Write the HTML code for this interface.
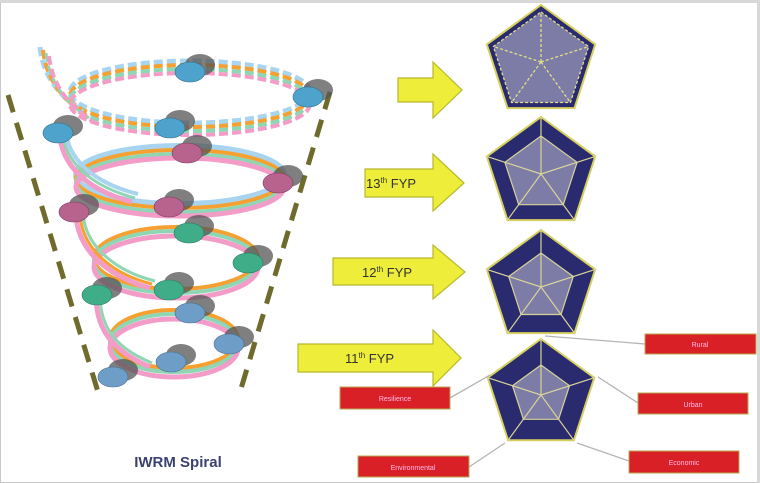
<!DOCTYPE html>
<html><head><meta charset="utf-8"><style>
html,body{margin:0;padding:0;background:#fff}
svg{display:block}
</style></head><body>
<svg width="760" height="483" viewBox="0 0 760 483" xmlns="http://www.w3.org/2000/svg" font-family="Liberation Sans, sans-serif">
<rect x="0.5" y="0.5" width="759" height="482" fill="#fff" stroke="#c8c8c8" stroke-width="1"/>
<rect x="0" y="0" width="760" height="3" fill="#d8d8d8"/>
<rect x="757" y="0" width="3" height="483" fill="#d8d8d8"/>

<g stroke="#6e6b2c" stroke-width="5" stroke-dasharray="18 11" fill="none">
<line x1="8" y1="95" x2="98" y2="392"/>
<line x1="330" y1="92" x2="240" y2="392"/>
</g>

<!-- top dashed ring -->
<g fill="none" stroke-dasharray="9 4">
<ellipse cx="190" cy="98" rx="120" ry="31" stroke="#a8d4f0" stroke-width="5" transform="translate(0,-6)"/>
<ellipse cx="190" cy="98" rx="120" ry="31" stroke="#f5a030" stroke-width="4" transform="translate(0,-2)"/>
<ellipse cx="190" cy="98" rx="120" ry="31" stroke="#8fd6b5" stroke-width="4" transform="translate(0,2)"/>
<ellipse cx="190" cy="98" rx="120" ry="31" stroke="#f39cc8" stroke-width="4" transform="translate(0,6)"/>
<path d="M40 47 C43 75 58 95 83 112" stroke="#a8d4f0" stroke-width="5"/>
<path d="M43 50 C46 78 61 98 86 115" stroke="#f5a030" stroke-width="4"/>
<path d="M46 53 C49 81 64 101 89 118" stroke="#8fd6b5" stroke-width="3"/>
<path d="M49 56 C52 84 67 104 92 121" stroke="#f39cc8" stroke-width="4"/>
</g>
<g fill="none">
<!-- ring 2 -->
<ellipse cx="180" cy="181" rx="104" ry="29" stroke="#a8d4f0" stroke-width="6" transform="translate(0,-6)"/>
<ellipse cx="180" cy="181" rx="104" ry="29" stroke="#f5a030" stroke-width="4" transform="translate(0,-2)"/>
<ellipse cx="180" cy="181" rx="104" ry="29" stroke="#8fd6b5" stroke-width="4" transform="translate(0,2)"/>
<ellipse cx="180" cy="181" rx="104" ry="29" stroke="#f39cc8" stroke-width="5" transform="translate(0,6)"/>
<path d="M60 138 C65 172 95 192 132 202" stroke="#f39cc8" stroke-width="5"/>
<path d="M63 136 C68 168 98 188 135 198" stroke="#8fd6b5" stroke-width="3"/>
<path d="M66 134 C71 165 101 185 138 194" stroke="#a8d4f0" stroke-width="4"/>
<!-- ring 3 -->
<ellipse cx="176" cy="262" rx="82" ry="31" stroke="#f5a030" stroke-width="4" transform="translate(0,-4)"/>
<ellipse cx="176" cy="262" rx="82" ry="31" stroke="#8fd6b5" stroke-width="4"/>
<ellipse cx="176" cy="262" rx="82" ry="31" stroke="#f39cc8" stroke-width="5" transform="translate(0,5)"/>
<path d="M76 215 C78 252 110 277 150 288" stroke="#f39cc8" stroke-width="5"/>
<path d="M80 214 C82 249 112 274 152 284" stroke="#f5a030" stroke-width="3"/>
<path d="M83 213 C85 246 115 271 155 281" stroke="#8fd6b5" stroke-width="3"/>
<!-- ring 4 -->
<ellipse cx="174" cy="343" rx="64" ry="29" stroke="#f5a030" stroke-width="4" transform="translate(0,-4)"/>
<ellipse cx="174" cy="343" rx="64" ry="29" stroke="#8fd6b5" stroke-width="4"/>
<ellipse cx="174" cy="343" rx="64" ry="29" stroke="#f39cc8" stroke-width="5" transform="translate(0,5)"/>
<path d="M96 298 C97 332 115 352 150 367" stroke="#f39cc8" stroke-width="5"/>
<path d="M100 297 C101 330 118 349 152 363" stroke="#8fd6b5" stroke-width="3"/>
</g>

<!-- dots -->
<g>
<g fill="#555" opacity="0.75">
<ellipse cx="200" cy="65" rx="15" ry="11"/><ellipse cx="318" cy="90" rx="15" ry="11"/><ellipse cx="68" cy="126" rx="15" ry="11"/><ellipse cx="180" cy="121" rx="15" ry="11"/>
<ellipse cx="197" cy="146" rx="15" ry="11"/><ellipse cx="288" cy="176" rx="15" ry="11"/><ellipse cx="84" cy="205" rx="15" ry="11"/><ellipse cx="179" cy="200" rx="15" ry="11"/>
<ellipse cx="199" cy="226" rx="15" ry="11"/><ellipse cx="258" cy="256" rx="15" ry="11"/><ellipse cx="107" cy="288" rx="15" ry="11"/><ellipse cx="179" cy="283" rx="15" ry="11"/>
<ellipse cx="200" cy="306" rx="15" ry="11"/><ellipse cx="239" cy="337" rx="15" ry="11"/><ellipse cx="123" cy="370" rx="15" ry="11"/><ellipse cx="181" cy="355" rx="15" ry="11"/>
</g>
<g fill="#4ea3cc" stroke="#2d6f90" stroke-width="0.6">
<ellipse cx="190" cy="72" rx="15" ry="10"/><ellipse cx="308" cy="97" rx="15" ry="10"/><ellipse cx="58" cy="133" rx="15" ry="10"/><ellipse cx="170" cy="128" rx="15" ry="10"/>
</g>
<g fill="#b8628e" stroke="#7a3c5e" stroke-width="0.6">
<ellipse cx="187" cy="153" rx="15" ry="10"/><ellipse cx="278" cy="183" rx="15" ry="10"/><ellipse cx="74" cy="212" rx="15" ry="10"/><ellipse cx="169" cy="207" rx="15" ry="10"/>
</g>
<g fill="#3fae88" stroke="#2a7a5e" stroke-width="0.6">
<ellipse cx="189" cy="233" rx="15" ry="10"/><ellipse cx="248" cy="263" rx="15" ry="10"/><ellipse cx="97" cy="295" rx="15" ry="10"/><ellipse cx="169" cy="290" rx="15" ry="10"/>
</g>
<g fill="#6e9ec8" stroke="#456f94" stroke-width="0.6">
<ellipse cx="190" cy="313" rx="15" ry="10"/><ellipse cx="229" cy="344" rx="15" ry="10"/><ellipse cx="113" cy="377" rx="15" ry="10"/><ellipse cx="171" cy="362" rx="15" ry="10"/>
</g>
</g>

<text x="178" y="467" text-anchor="middle" font-size="15" font-weight="bold" fill="#3c4270">IWRM Spiral</text>

<g fill="#eded3a" stroke="#b8b82a" stroke-width="1.2">
<polygon points="398,78 433,78 433,62 462,90 433,118 433,102 398,102"/>
<polygon points="365,169 433,169 433,154 464,183 433,211 433,197 365,197"/>
<polygon points="333,258 433,258 433,245 465,272 433,299 433,285 333,285"/>
<polygon points="298,344 433,344 433,330 461,358 433,386 433,372 298,372"/>
</g>
<g font-size="13" fill="#333">
<text x="366" y="188">13<tspan font-size="8" dy="-5">th</tspan><tspan dy="5"> FYP</tspan></text>
<text x="362" y="277">12<tspan font-size="8" dy="-5">th</tspan><tspan dy="5"> FYP</tspan></text>
<text x="345" y="363">11<tspan font-size="8" dy="-5">th</tspan><tspan dy="5"> FYP</tspan></text>
</g>

<g stroke="#d6d060" stroke-width="2">
<polygon fill="#2a2a6e" points="541,5 595.2,44.4 574.5,108.1 507.5,108.1 486.8,44.4"/>
<polygon fill="#7c7ca6" stroke="#e3de8a" stroke-width="1.3" stroke-dasharray="3 2" points="541,12 588.6,46.5 570.4,102.5 511.6,102.5 493.4,46.5"/>
<path fill="none" stroke="#e3de8a" stroke-width="1.3" stroke-dasharray="3 2" d="M541 62L541 12M541 62L588.6 46.5M541 62L570.4 102.5M541 62L511.6 102.5M541 62L493.4 46.5"/>

<polygon fill="#2a2a6e" points="541,117 595.2,156.4 574.5,220.1 507.5,220.1 486.8,156.4"/>
<polygon fill="#7c7ca6" stroke="#d8d39a" stroke-width="1.2" points="541,136 577.1,162.3 563.3,204.7 518.7,204.7 504.9,162.3"/>
<path fill="none" stroke="#d8d39a" stroke-width="1.2" d="M541 174L541 117M541 174L595.2 156.4M541 174L574.5 220.1M541 174L507.5 220.1M541 174L486.8 156.4"/>

<polygon fill="#2a2a6e" points="541,230 595.2,269.4 574.5,333.1 507.5,333.1 486.8,269.4"/>
<polygon fill="#7c7ca6" stroke="#d8d39a" stroke-width="1.2" points="541,253 573.3,276.5 561,314.5 521,314.5 508.7,276.5"/>
<path fill="none" stroke="#d8d39a" stroke-width="1.2" d="M541 287L541 230M541 287L595.2 269.4M541 287L574.5 333.1M541 287L507.5 333.1M541 287L486.8 269.4"/>

<polygon fill="#2a2a6e" points="541,339 594.3,377.7 573.9,440.3 508.1,440.3 487.7,377.7"/>
<polygon fill="#7c7ca6" stroke="#d8d39a" stroke-width="1.2" points="541,365 569.5,385.7 558.6,419.3 523.4,419.3 512.5,385.7"/>
<path fill="none" stroke="#d8d39a" stroke-width="1.2" d="M541 395L541 339M541 395L594.3 377.7M541 395L573.9 440.3M541 395L508.1 440.3M541 395L487.7 377.7"/>
</g>

<g stroke="#b5b5b5" stroke-width="1.3" fill="none">
<line x1="645" y1="344" x2="545" y2="336"/>
<line x1="450" y1="398" x2="490" y2="375"/>
<line x1="638" y1="403" x2="598" y2="377"/>
<line x1="469" y1="467" x2="505" y2="443"/>
<line x1="629" y1="461" x2="577" y2="443"/>
</g>

<g fill="#d92027" stroke="#b8a850" stroke-width="1">
<rect x="645" y="334" width="111" height="20"/>
<rect x="340" y="387" width="110" height="22"/>
<rect x="638" y="393" width="110" height="21"/>
<rect x="358" y="456" width="111" height="21"/>
<rect x="629" y="451" width="110" height="22"/>
</g>
<g fill="#fbe" font-size="7" text-anchor="middle">
<text x="700" y="347">Rural</text>
<text x="395" y="401">Resilience</text>
<text x="693" y="407">Urban</text>
<text x="413" y="470">Environmental</text>
<text x="684" y="465">Economic</text>
</g>
</svg>
</body></html>
